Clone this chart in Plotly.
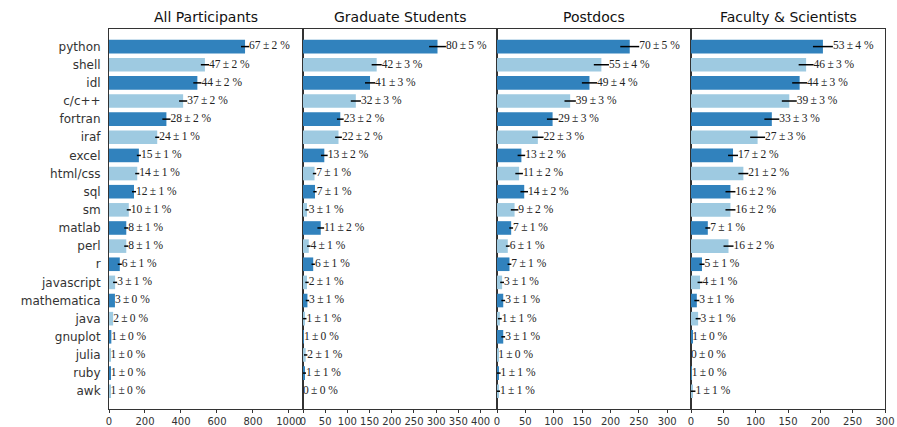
import plotly.graph_objects as go
from plotly.subplots import make_subplots

languages = ["python", "shell", "idl", "c/c++", "fortran", "iraf", "excel", "html/css",
             "sql", "sm", "matlab", "perl", "r", "javascript", "mathematica", "java",
             "gnuplot", "julia", "ruby", "awk"]

panel_titles = ["All Participants", "Graduate Students", "Postdocs", "Faculty & Scientists"]

# respondent counts (bar lengths)
counts_all = [756, 533, 491, 412, 319, 268, 166, 157, 139, 110, 96, 96, 60, 34, 33, 23, 13, 8, 10, 8]
counts_grad = [303, 166, 151, 119, 84, 80, 48, 26, 27, 9, 40, 13, 23, 9, 10, 4, 2, 6, 3, 0]
counts_postdoc = [234, 184, 163, 129, 98, 72, 43, 39, 48, 31, 25, 19, 22, 9, 11, 5, 11, 2, 3, 2]
counts_faculty = [204, 178, 168, 152, 125, 103, 65, 81, 61, 61, 26, 58, 17, 14, 9, 11, 2, 0, 1, 3]

# percentages shown in labels
pct_all = [67, 47, 44, 37, 28, 24, 15, 14, 12, 10, 8, 8, 6, 3, 3, 2, 1, 1, 1, 1]
pct_grad = [80, 42, 41, 32, 23, 22, 13, 7, 7, 3, 11, 4, 6, 2, 3, 1, 1, 2, 1, 0]
pct_postdoc = [70, 55, 49, 39, 29, 22, 13, 11, 14, 9, 7, 6, 7, 3, 3, 1, 3, 1, 1, 1]
pct_faculty = [53, 46, 44, 39, 33, 27, 17, 21, 16, 16, 7, 16, 5, 4, 3, 3, 1, 0, 1, 1]

# uncertainties (%) shown in labels
err_all = [2, 2, 2, 2, 2, 1, 1, 1, 1, 1, 1, 1, 1, 1, 0, 0, 0, 0, 0, 0]
err_grad = [5, 3, 3, 3, 2, 2, 2, 1, 1, 1, 2, 1, 1, 1, 1, 1, 0, 1, 1, 0]
err_postdoc = [5, 4, 4, 3, 3, 3, 2, 2, 2, 2, 1, 1, 1, 1, 1, 1, 1, 0, 1, 1]
err_faculty = [4, 3, 3, 3, 3, 3, 2, 2, 2, 2, 1, 2, 1, 1, 1, 1, 0, 0, 0, 1]

# total respondents per group (denominator)
totals = [1130, 379, 334, 385]

x_ranges = [1078, 437, 342, 300]
x_ticks = [[0, 200, 400, 600, 800, 1000],
           [0, 50, 100, 150, 200, 250, 300, 350, 400],
           [0, 50, 100, 150, 200, 250, 300],
           [0, 50, 100, 150, 200, 250, 300]]

dark = "#3182bd"
light = "#9ecae1"
colors = [dark if i % 2 == 0 else light for i in range(len(languages))]

panels = [(counts_all, pct_all, err_all), (counts_grad, pct_grad, err_grad),
          (counts_postdoc, pct_postdoc, err_postdoc), (counts_faculty, pct_faculty, err_faculty)]

fig = make_subplots(rows=1, cols=4, shared_yaxes=True, horizontal_spacing=0)
ypos = list(range(len(languages)))

for k, (cnt, pct, err) in enumerate(panels):
    col = k + 1
    err_counts = [e / 100.0 * totals[k] for e in err]
    fig.add_trace(go.Bar(
        x=cnt, y=ypos, orientation="h", width=0.75,
        marker=dict(color=colors, line=dict(width=0)),
        error_x=dict(type="data", array=err_counts, symmetric=True,
                     color="black", thickness=1.5, width=0),
        showlegend=False, hoverinfo="skip"), row=1, col=col)
    labels = [f"{p}\u2009±\u2009{e} %" for p, e in zip(pct, err)]
    fig.add_trace(go.Scatter(
        x=[c + e for c, e in zip(cnt, err_counts)], y=ypos, mode="text",
        text=labels, textposition="middle right",
        textfont=dict(family="Liberation Serif", size=11.5, color="#222"),
        cliponaxis=False, showlegend=False, hoverinfo="skip"), row=1, col=col)
    fig.update_xaxes(range=[0, x_ranges[k]], tickvals=x_ticks[k],
                     showline=True, linecolor="#333", linewidth=1, mirror=True,
                     ticks="outside", ticklen=3, tickcolor="#333",
                     showgrid=False, zeroline=False, automargin=False,
                     tickfont=dict(family="DejaVu Sans", size=10, color="#333"),
                     row=1, col=col)
    fig.add_annotation(text=panel_titles[k], xref=f"x{'' if col == 1 else col} domain",
                       yref="paper", x=0.5, y=1, yshift=2, yanchor="bottom",
                       showarrow=False,
                       font=dict(family="DejaVu Sans", size=14, color="#111"))

fig.update_yaxes(range=[19.98, -0.97], tickvals=ypos, ticktext=languages,
                 showline=True, linecolor="#333", linewidth=1, mirror=True,
                 showgrid=False, zeroline=False, ticks="outside", ticklen=5,
                 tickcolor="rgba(0,0,0,0)", automargin=False,
                 tickfont=dict(family="DejaVu Sans", size=12, color="#333"))

fig.update_layout(width=897, height=427, margin=dict(l=109, r=12, t=29, b=18),
                  plot_bgcolor="white", paper_bgcolor="white", bargap=0.25)

fig.write_html("out.html", config={"displayModeBar": False},
               post_script="document.body.style.margin='0';document.body.style.overflow='hidden';")
